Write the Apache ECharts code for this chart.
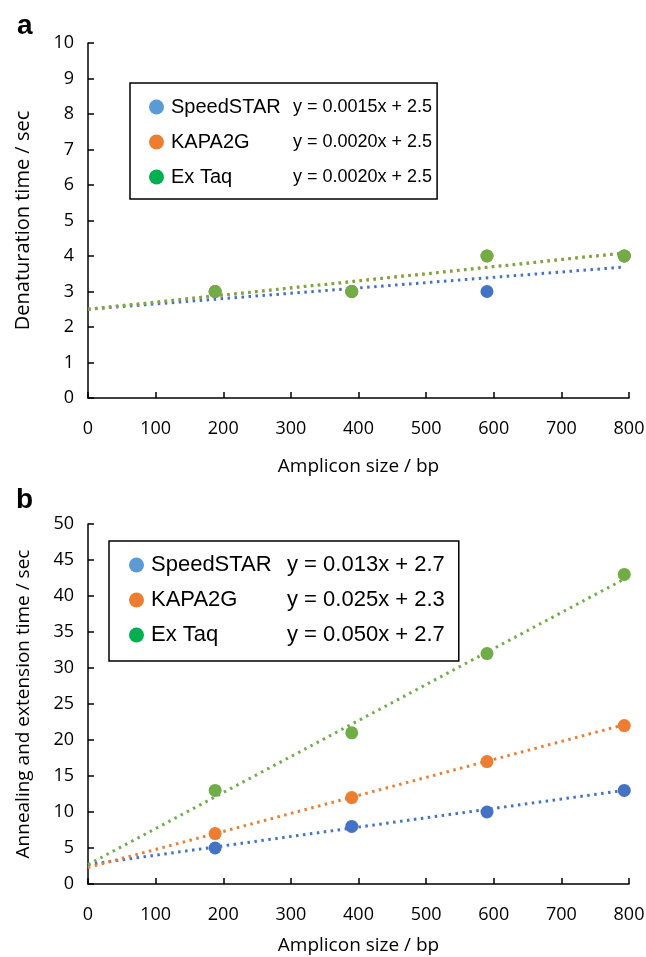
<!DOCTYPE html>
<html>
<head>
<meta charset="utf-8">
<script src="https://cdn.jsdelivr.net/npm/echarts@6/dist/echarts.min.js"></script>
<style>
  html, body { margin: 0; padding: 0; background: #fff; }
  #chart { width: 646px; height: 957px; }
</style>
</head>
<body>
<div id="chart"></div>
<script>
var names = ['SpeedSTAR', 'KAPA2G', 'Ex Taq'];
var ampliconSize = [188, 390, 590, 793];

// panel a: denaturation time (sec)
var denatSpeedstar = [3, 3, 3, 4];
var denatKapa = [3, 3, 4, 4];
var denatExtaq = [3, 3, 4, 4];
var denatSlope = [0.0015, 0.0020, 0.0020];
var denatIntercept = [2.5, 2.5, 2.5];
var denatEq = ['y = 0.0015x + 2.5', 'y = 0.0020x + 2.5', 'y = 0.0020x + 2.5'];

// panel b: annealing and extension time (sec)
var annealSpeedstar = [5, 8, 10, 13];
var annealKapa = [7, 12, 17, 22];
var annealExtaq = [13, 21, 32, 43];
var annealSlope = [0.013, 0.025, 0.050];
var annealIntercept = [2.7, 2.3, 2.7];
var annealEq = ['y = 0.013x + 2.7', 'y = 0.025x + 2.3', 'y = 0.050x + 2.7'];

var pointColors = ['#4472C4', '#ED7D31', '#70AD47'];
var legendColors = ['#5B9BD5', '#ED7D31', '#00B050'];

var tickFont = 'Open Sans';
var legFont = 'Liberation Sans';

var chart = echarts.init(document.getElementById('chart'));

function pts(ys) {
  return ys.map(function (y, i) { return [ampliconSize[i], y]; });
}

function trend(slope, icpt) {
  var xEnd = ampliconSize[ampliconSize.length - 1];
  return [[0, icpt], [xEnd, slope * xEnd + icpt]];
}

function xAxisOf(idx, gap) {
  return {
    gridIndex: idx, type: 'value', min: 0, max: 800, interval: 100,
    name: 'Amplicon size / bp', nameLocation: 'middle', nameGap: gap,
    nameTextStyle: { fontFamily: tickFont, fontSize: 19, color: '#000' },
    axisLine: { lineStyle: { color: '#000', width: 1.5 } },
    axisTick: { inside: true, length: 6, lineStyle: { color: '#000', width: 1.5 } },
    axisLabel: { fontFamily: tickFont, fontSize: 18, color: '#000', margin: 22 },
    splitLine: { show: false }
  };
}

function yAxisOf(idx, max, interval, name, nameSize) {
  return {
    gridIndex: idx, type: 'value', min: 0, max: max, interval: interval,
    name: name, nameLocation: 'middle', nameGap: 55,
    nameTextStyle: { fontFamily: tickFont, fontSize: nameSize, color: '#000' },
    axisLine: { show: true, lineStyle: { color: '#000', width: 1.5 } },
    axisTick: { show: true, inside: true, length: 6, lineStyle: { color: '#000', width: 1.5 } },
    axisLabel: { fontFamily: tickFont, fontSize: 18, color: '#000', margin: 14 },
    splitLine: { show: false }
  };
}

function legendOf(top, left, eqs, nameW, nameSize, eqSize, gap, pad) {
  return {
    orient: 'vertical', left: left, top: top,
    padding: pad,
    itemGap: gap, itemWidth: 15, itemHeight: 15,
    icon: 'circle',
    borderColor: '#000', borderWidth: 1.5,
    selectedMode: false,
    data: names.map(function (n, i) {
      return { name: n, itemStyle: { color: legendColors[i] } };
    }),
    formatter: function (n) {
      return '{n|' + n + '}{e|' + eqs[names.indexOf(n)] + '}';
    },
    textStyle: {
      fontFamily: legFont, fontSize: nameSize, color: '#000',
      rich: {
        n: { fontFamily: legFont, fontSize: nameSize, color: '#000', width: nameW, padding: [0, 0, 0, 2] },
        e: { fontFamily: legFont, fontSize: eqSize, color: '#000' }
      }
    }
  };
}

var series = [];
[[denatSpeedstar, denatKapa, denatExtaq], [annealSpeedstar, annealKapa, annealExtaq]].forEach(function (set, g) {
  var slopes = g === 0 ? denatSlope : annealSlope;
  var icpts = g === 0 ? denatIntercept : annealIntercept;
  set.forEach(function (ys, i) {
    series.push({
      name: names[i] + ' trend', type: 'line', xAxisIndex: g, yAxisIndex: g,
      data: trend(slopes[i], icpts[i]), showSymbol: false, symbol: 'none',
      lineStyle: { color: pointColors[i], width: 3, type: [2.5, 4.5], cap: 'butt' },
      z: 2, silent: true
    });
  });
  set.forEach(function (ys, i) {
    series.push({
      name: names[i], type: 'scatter', xAxisIndex: g, yAxisIndex: g,
      data: pts(ys), symbolSize: 13,
      itemStyle: { color: pointColors[i], opacity: 1 },
      z: 3
    });
  });
});

var option = {
  backgroundColor: '#fff',
  animation: false,
  grid: [
    { left: 88, right: 17, top: 43, height: 355, outerBoundsMode: 'none' },
    { left: 88, right: 17, top: 524, height: 360, outerBoundsMode: 'none' }
  ],
  xAxis: [xAxisOf(0, 59), xAxisOf(1, 52)],
  yAxis: [
    yAxisOf(0, 10, 1, 'Denaturation time / sec', 20),
    yAxisOf(1, 50, 5, 'Annealing and extension time / sec', 19)
  ],
  legend: [
    legendOf(83, 130, denatEq, 122, 20, 18, 15, [14, 5, 12, 19]),
    legendOf(541, 109, annealEq, 136, 22, 22, 13, [13, 14, 15, 20])
  ],
  graphic: [
    { type: 'text', left: 17, top: 12, style: { text: 'a', font: 'bold 28px "Liberation Sans"', fill: '#000' } },
    { type: 'text', left: 16, top: 486, style: { text: 'b', font: 'bold 28px "Liberation Sans"', fill: '#000' } }
  ],
  series: series
};

chart.setOption(option);
</script>
</body>
</html>
